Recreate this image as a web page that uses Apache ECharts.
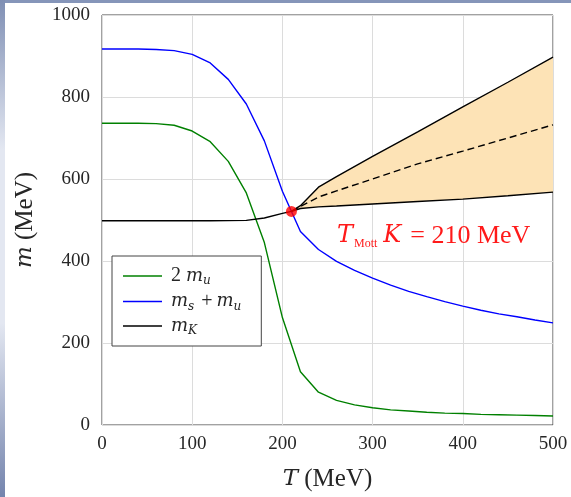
<!DOCTYPE html>
<html>
<head>
<meta charset="utf-8">
<script src="https://cdn.jsdelivr.net/npm/echarts@6/dist/echarts.min.js"></script>
<style>
  html, body { margin: 0; padding: 0; background: #ffffff; }
  #chart { width: 571px; height: 497px; }
</style>
</head>
<body>
<div id="chart"></div>
<script>
// Temperature grid (MeV) for the quark mass curves
const temps = [0, 20, 40, 60, 80, 100, 120, 140, 160, 180, 200, 220, 240, 260,
               280, 300, 320, 340, 360, 380, 400, 420, 440, 460, 480, 500];
// 2 m_u (MeV)
const twoMu = [736, 736, 736, 735, 731, 717, 691, 643, 566, 445, 262, 130, 80, 60,
               49, 42, 37, 34, 31, 29, 28, 26, 25, 24, 23, 22];
// m_s + m_u (MeV)
const msPlusMu = [917, 917, 917, 916, 913, 904, 883, 843, 783, 693, 570, 472, 428, 399,
                  377, 358, 341, 326, 313, 301, 290, 280, 271, 264, 256, 249];
// Kaon mass below the Mott temperature
const kaonT = [0, 40, 80, 120, 160, 180, 200, 210];
const kaonM = [498, 498, 498, 498, 499, 505, 516, 521];
// Kaon mass above the Mott temperature: upper, central (dashed) and lower branch
const bandT = [210, 220, 240, 260, 300, 350, 400, 450, 500];
const kaonUpper = [521, 535, 580, 606, 655, 715, 776, 836, 897];
const kaonMid = [521, 533, 556, 571, 600, 637, 668, 700, 732];
const kaonLower = [521, 528, 532, 534, 539, 545, 551, 559, 568];
// Mott point
const mottT = 210;
const mottM = 521;
// Axis ticks
const xTicks = [0, 100, 200, 300, 400, 500];
const yTicks = [0, 200, 400, 600, 800, 1000];

const pairs = (xs, ys) => xs.map((x, i) => [x, ys[i]]);

const SERIF = '"Liberation Serif", "DejaVu Serif", serif';
const MATH = '"DejaVu Serif", "Liberation Serif", serif';
const TXT = '#262626';
const RED = '#ff1a1a';

const chart = echarts.init(document.getElementById('chart'), null, { renderer: 'canvas' });

const legendLabels = {
  '2mu': '{n|2 }{i|m}{s|u}',
  'msmu': '{i|m}{s|s}{p|+}{i|m}{s|u}',
  'mK': '{i|m}{s|K}'
};

const richLegend = {
  n: { fontFamily: SERIF, fontSize: 20, color: TXT, lineHeight: 22 },
  i: { fontFamily: MATH, fontStyle: 'italic', fontSize: 18, color: TXT, lineHeight: 22 },
  p: { fontFamily: SERIF, fontSize: 20, color: TXT, lineHeight: 22, padding: [0, 4, 0, 7] },
  s: { fontFamily: MATH, fontStyle: 'italic', fontSize: 12, color: TXT, lineHeight: 8, verticalAlign: 'bottom' }
};

const richAxisName = {
  n: { fontFamily: SERIF, fontSize: 25, color: TXT },
  i: { fontFamily: MATH, fontStyle: 'italic', fontSize: 23, color: TXT }
};

chart.setOption({
  animation: false,
  backgroundColor: '#ffffff',
  graphic: [
    {
      type: 'rect', left: 0, top: 0, z: 100,
      shape: { x: 0, y: 0, width: 571, height: 3 },
      style: { fill: '#8595b9' }
    },
    {
      type: 'rect', left: 0, top: 0, z: 100,
      shape: { x: 0, y: 0, width: 5, height: 497 },
      style: {
        fill: new echarts.graphic.LinearGradient(0, 0, 0, 1, [
          { offset: 0, color: '#7f8fb4' },
          { offset: 0.3, color: '#e3e7f1' },
          { offset: 0.65, color: '#e3e7f1' },
          { offset: 1, color: '#7484ad' }
        ])
      }
    },
    {
      type: 'text', left: 337, top: 223, z: 50,
      style: {
        text: '{i|T}{s|Mott}{i|K}{n|= 210 MeV}',
        rich: {
          n: { fontFamily: SERIF, fontSize: 26, fill: RED, lineHeight: 28, padding: [0, 0, 0, 9] },
          i: { fontFamily: MATH, fontStyle: 'italic', fontSize: 24, fill: RED, lineHeight: 28 },
          s: { fontFamily: SERIF, fontSize: 12, fill: RED, lineHeight: 8, verticalAlign: 'bottom', padding: [0, 6, 0, 1] }
        }
      }
    }
  ],
  grid: {
    left: 102, right: 18, top: 15, bottom: 67,
    show: true, borderColor: '#444444', borderWidth: 1, backgroundColor: 'transparent'
  },
  legend: {
    orient: 'vertical',
    left: 112, top: 256,
    padding: [10, 20, 9, 11],
    itemGap: 4.5,
    itemWidth: 39,
    itemHeight: 1.4,
    icon: 'rect',
    backgroundColor: '#ffffff',
    borderColor: '#444444',
    borderWidth: 1,
    data: ['2mu', 'msmu', 'mK'],
    formatter: name => legendLabels[name],
    textStyle: { padding: [0, 0, 0, 4], rich: richLegend }
  },
  xAxis: {
    type: 'value', min: 0, max: 500, interval: 100,
    name: '{i|T}{n| (MeV)}',
    nameLocation: 'middle', nameGap: 42,
    nameTextStyle: { rich: richAxisName },
    axisLine: { show: false },
    axisTick: { show: false },
    axisLabel: {
      margin: 10, fontFamily: SERIF, fontSize: 19, color: TXT,
      formatter: v => (xTicks.includes(v) ? String(v) : '')
    },
    splitLine: { show: true, lineStyle: { color: '#dcdcdc', width: 1 } }
  },
  yAxis: {
    type: 'value', min: 0, max: 1000, interval: 200,
    name: '{i|m}{n| (MeV)}',
    nameLocation: 'middle', nameGap: 64, nameRotate: 90,
    nameTextStyle: { rich: richAxisName },
    axisLine: { show: false },
    axisTick: { show: false },
    axisLabel: {
      margin: 12, fontFamily: SERIF, fontSize: 19, color: TXT,
      formatter: v => (yTicks.includes(v) ? String(v) : '')
    },
    splitLine: { show: true, lineStyle: { color: '#dcdcdc', width: 1 } }
  },
  series: [
    {
      // shaded region between the upper and lower kaon branches
      name: 'band',
      type: 'custom',
      z: 1,
      silent: true,
      data: [0],
      renderItem: (params, api) => {
        const top = bandT.map((t, i) => api.coord([t, kaonUpper[i]]));
        const bottom = bandT.map((t, i) => api.coord([t, kaonLower[i]])).reverse();
        return {
          type: 'polygon',
          shape: { points: top.concat(bottom) },
          style: { fill: '#fde3b6', stroke: 'none' }
        };
      }
    },
    {
      name: '2mu', type: 'line', z: 3, symbol: 'none',
      color: '#008000', lineStyle: { color: '#008000', width: 1.4 },
      data: pairs(temps, twoMu)
    },
    {
      name: 'msmu', type: 'line', z: 3, symbol: 'none',
      color: '#0000ff', lineStyle: { color: '#0000ff', width: 1.4 },
      data: pairs(temps, msPlusMu)
    },
    {
      name: 'mK', type: 'line', z: 4, symbol: 'none',
      color: '#000000', lineStyle: { color: '#000000', width: 1.4 },
      data: pairs(kaonT, kaonM)
    },
    {
      name: 'mK upper', type: 'line', z: 4, symbol: 'none',
      lineStyle: { color: '#000000', width: 1.4 },
      data: pairs(bandT, kaonUpper)
    },
    {
      name: 'mK lower', type: 'line', z: 4, symbol: 'none',
      lineStyle: { color: '#000000', width: 1.4 },
      data: pairs(bandT, kaonLower)
    },
    {
      name: 'mK central', type: 'line', z: 4, symbol: 'none',
      lineStyle: { color: '#000000', width: 1.4, type: [7, 4] },
      data: pairs(bandT, kaonMid)
    },
    {
      name: 'Mott point', type: 'scatter', z: 5,
      symbol: 'circle', symbolSize: 11,
      itemStyle: { color: '#ff0000' },
      data: [[mottT, mottM]]
    }
  ]
});
</script>
</body>
</html>
